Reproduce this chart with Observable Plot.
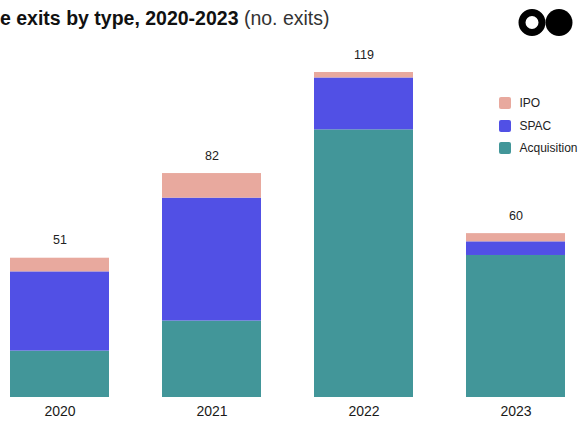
<!DOCTYPE html>
<html>
<head>
<meta charset="utf-8">
<script src="https://cdn.jsdelivr.net/npm/d3@7"></script>
<script src="https://cdn.jsdelivr.net/npm/@observablehq/plot@0.6"></script>
<style>
  html, body { margin: 0; padding: 0; background: #fff; overflow: hidden; }
  #wrap { position: relative; width: 578px; height: 421px; font-family: "Liberation Sans", Arial, Helvetica, sans-serif; }
  #wrap svg.plot { position: absolute; left: 0; top: 0; }
  .title { position: absolute; left: 0px; top: 5px; font-size: 19.5px; line-height: 26px; color: #111; white-space: nowrap; }
  .title b { font-weight: 700; }
  .title span { font-weight: 400; color: #333; }
  .logo { position: absolute; left: 518px; top: 8px; }
  .legend { position: absolute; left: 499px; top: 92px; font-size: 12px; color: #222; }
  .legend .row { display: flex; align-items: center; height: 22.6px; white-space: nowrap; }
  .legend .sw { width: 12px; height: 12px; border-radius: 2px; margin-right: 8.5px; }
</style>
</head>
<body>
<div id="wrap">
  <div class="title"><b>e exits by type, 2020-2023</b> <span>(no. exits)</span></div>
  <svg class="logo" width="56" height="30" viewBox="0 0 56 30">
    <circle cx="14" cy="14.5" r="10" fill="none" stroke="#000" stroke-width="7"/>
    <circle cx="41" cy="14.5" r="13.5" fill="#000"/>
  </svg>
  <div class="legend" id="legend"></div>
</div>
<script>
// Exits per year, split by exit type
const years = ["2020", "2021", "2022", "2023"];
const acquisition = [17, 28, 98, 52];
const spac = [29, 45, 19, 5];
const ipo = [5, 9, 2, 3];

const types = ["Acquisition", "SPAC", "IPO"];
const colors = ["#429699", "#5150e5", "#e8a99e"];

const rows = years.flatMap((year, i) => [
  {year, type: "Acquisition", value: acquisition[i]},
  {year, type: "SPAC", value: spac[i]},
  {year, type: "IPO", value: ipo[i]}
]);
const totals = years.map((year, i) => ({year, total: acquisition[i] + spac[i] + ipo[i]}));

const chart = Plot.plot({
  width: 578,
  height: 421,
  marginTop: 72,
  marginBottom: 24,
  marginLeft: 9,
  marginRight: 11,
  style: {fontFamily: "'Liberation Sans', Arial, sans-serif", background: "transparent"},
  x: {domain: years, paddingInner: 0.348, paddingOuter: 0, label: null},
  y: {domain: [0, d3.max(totals, d => d.total)], axis: null},
  color: {domain: types, range: colors},
  marks: [
    Plot.barY(rows, {x: "year", y: "value", fill: "type", order: types}),
    Plot.text(totals, {x: "year", y: "total", text: d => String(d.total), dy: -18, lineAnchor: "middle", fontSize: 12.5, fill: "#222"}),
    Plot.axisX({tickSize: 0, tickPadding: 8.5, fontSize: 14, color: "#1a1a1a", label: null})
  ]
});
chart.classList.add("plot");
document.getElementById("wrap").prepend(chart);

// Legend, top to bottom: IPO, SPAC, Acquisition
const colorScale = chart.scale("color");
const legend = d3.select("#legend");
[...colorScale.domain].reverse().forEach(t => {
  const row = legend.append("div").attr("class", "row");
  row.append("div").attr("class", "sw").style("background", colorScale.range[colorScale.domain.indexOf(t)]);
  row.append("div").text(t);
});
</script>
</body>
</html>
